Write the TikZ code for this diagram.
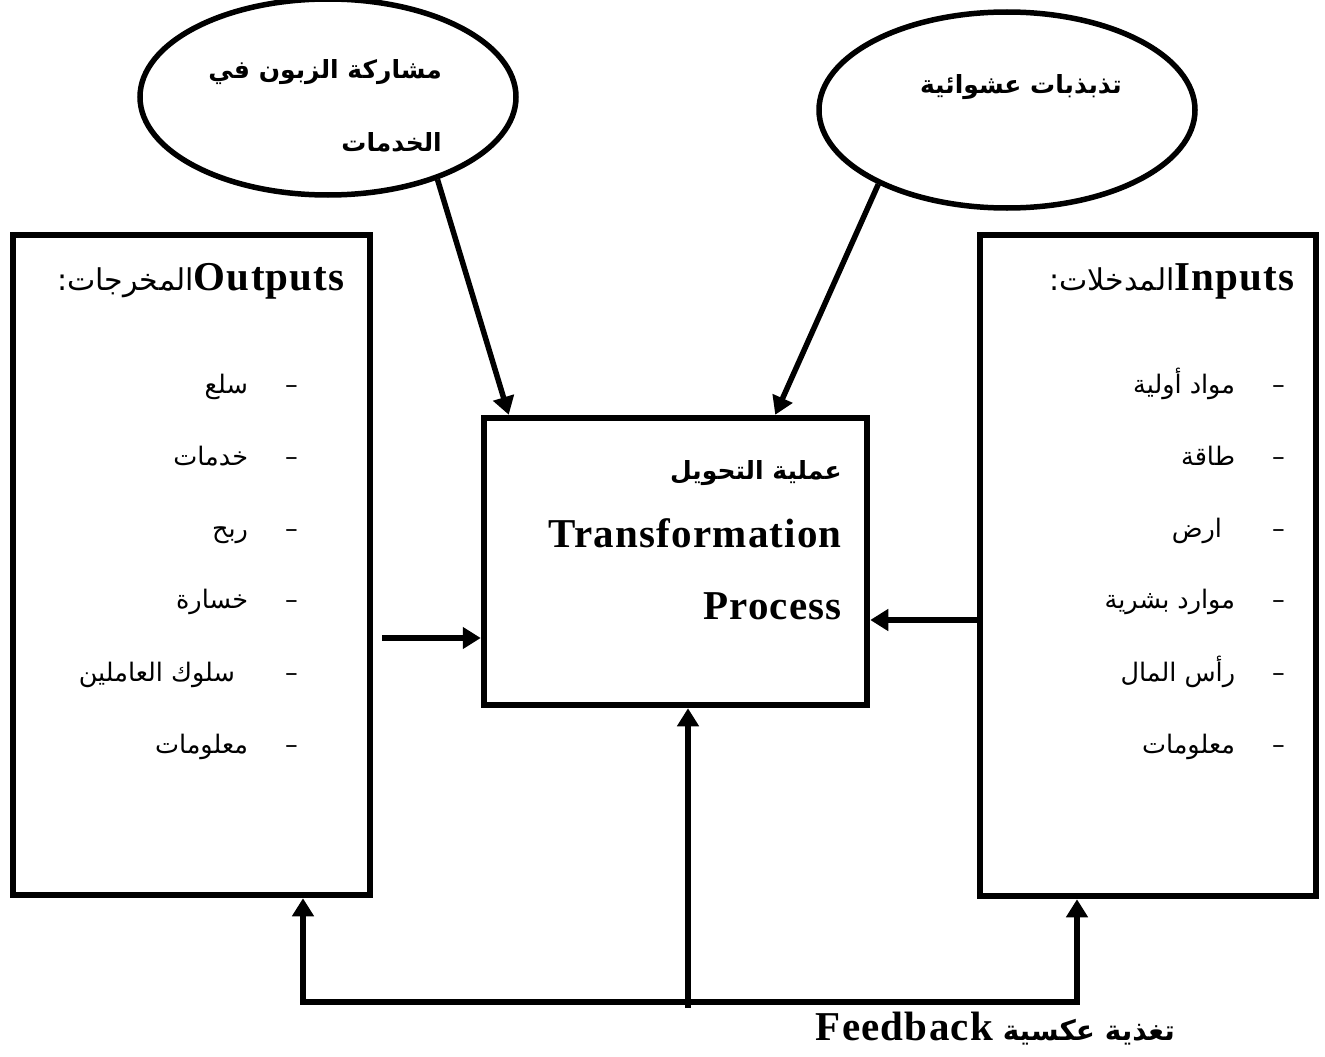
\documentclass[tikz,border=0pt]{standalone}
\usepackage{fontspec}
\setmainfont{Liberation Serif}
\newfontfamily\arabicfont[Script=Arabic]{DejaVu Sans}
\newfontfamily\latfont[LetterSpace=3]{Liberation Serif}
\TeXXeTstate=1
\usetikzlibrary{shapes.geometric,arrows.meta}

% right-to-left Arabic run, and a bold Latin run inside it
\newcommand\artxt[1]{{\arabicfont\beginR #1\endR}}
\newcommand\lat[1]{\beginL{\latfont\bfseries #1}\endL}

\tikzset{
  frame/.style={draw, line width=6.5pt, inner sep=0pt},
  oval/.style={draw, ellipse, line width=5.5pt, inner sep=0pt,
               minimum width=376pt, minimum height=196pt},
  arr/.style={line width=5.5pt, -{Triangle[width=21pt,length=18pt]}},
  lbl/.style={inner sep=0pt, anchor=mid east},
  big/.style={font=\fontsize{41}{44}\latfont\bfseries},
  head/.style={font=\fontsize{25}{30}\selectfont\bfseries},
  item/.style={font=\fontsize{25.5}{30}\selectfont},
}

\begin{document}
\begin{tikzpicture}[x=1pt, y=-1pt]
\useasboundingbox (0,0) rectangle (1325,1057);

% disturbances acting on the process
\node[oval] (ellL) at (328,97) {};
\node[oval] (ellR) at (1007,110) {};
\node[lbl, head] (custA) at (442,76) {\artxt{مشاركة الزبون في}};
\node[lbl, head] (custB) at (442,149) {\artxt{الخدمات}};
\node[lbl, head] (noise) at (1122,91) {\artxt{تذبذبات عشوائية}};

% the three boxes
\node[frame, minimum width=357pt, minimum height=660pt] (boxL) at (191.5,565) {};
\node[frame, minimum width=336pt, minimum height=661pt] (boxR) at (1148,565.5) {};
\node[frame, minimum width=383pt, minimum height=287pt] (boxC) at (675.5,561.5) {};

% transformation process
\node[lbl, head] (tA) at (842,477) {\artxt{عملية التحويل}};
\node[lbl, big] (tB) at (842,545) {Transformation};
\node[lbl, big] (tC) at (842,617) {Process};

% outputs
\node[lbl] (outH) at (345,288) {\arabicfont\beginR{\fontsize{41}{44}\selectfont\lat{Outputs}}{\fontsize{30}{32}\selectfont المخرجات:}\endR};
\node[lbl, item] (o1) at (298,391) {\artxt{–\hspace{37pt}سلع}};
\node[lbl, item] (o2) at (298,463) {\artxt{–\hspace{37pt}خدمات}};
\node[lbl, item] (o3) at (298,535) {\artxt{–\hspace{37pt}ربح}};
\node[lbl, item] (o4) at (298,606) {\artxt{–\hspace{37pt}خسارة}};
\node[lbl, item] (o5) at (298,679) {\artxt{–\hspace{50pt}سلوك العاملين}};
\node[lbl, item] (o6) at (298,751) {\artxt{–\hspace{37pt}معلومات}};

% inputs
\node[lbl] (inH) at (1295,288) {\arabicfont\beginR{\fontsize{41}{44}\selectfont\lat{Inputs}}{\fontsize{30}{32}\selectfont المدخلات:}\endR};
\node[lbl, item] (i1) at (1285,391) {\artxt{–\hspace{37pt}مواد أولية}};
\node[lbl, item] (i2) at (1285,463) {\artxt{–\hspace{37pt}طاقة}};
\node[lbl, item] (i3) at (1285,535) {\artxt{–\hspace{50pt}ارض}};
\node[lbl, item] (i4) at (1285,606) {\artxt{–\hspace{37pt}موارد بشرية}};
\node[lbl, item] (i5) at (1285,679) {\artxt{–\hspace{37pt}رأس المال}};
\node[lbl, item] (i6) at (1285,751) {\artxt{–\hspace{37pt}معلومات}};

% feedback label
\node[lbl] (fbT) at (1175,1038) {\arabicfont\beginR{\fontsize{28}{30}\selectfont\bfseries تغذية عكسية }{\fontsize{41}{44}\selectfont\lat{Feedback}}\endR};

% connector end points
\coordinate (fromOut) at (382,638);
\coordinate (levIn) at (0,620);
\coordinate (fbL) at (303,1002);
\coordinate (fbR) at (1077,1002);
\coordinate (fbC) at (688,1008);

% arrows into the process
\draw[arr] (ellL.-37) -- ([xshift=28pt]boxC.north west);
\draw[arr] (ellR.210.6) -- ([xshift=-95pt]boxC.north east);
\draw[arr] (fromOut) -- (boxC.west |- fromOut);
\draw[arr] (boxR.west |- levIn) -- (boxC.east |- levIn);

% feedback loop
\draw[arr] (fbC) -- (fbC |- boxC.south);
\draw[line width=5.5pt, {Triangle[width=21pt,length=18pt]}-{Triangle[width=21pt,length=18pt]}]
  (fbL |- boxL.south) -- (fbL) -- (fbR) -- (fbR |- boxR.south);
\end{tikzpicture}
\end{document}
